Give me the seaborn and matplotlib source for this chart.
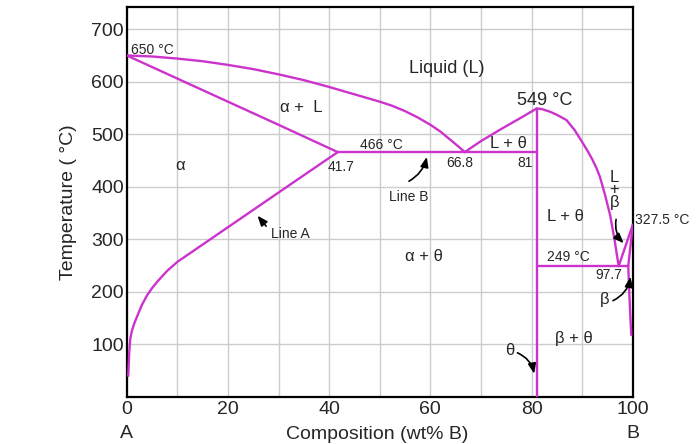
import matplotlib
matplotlib.use("Agg")
import matplotlib.pyplot as plt
import seaborn as sns
import pandas as pd

# ---- data ----
liq_left_x = [0, 5, 10, 15, 20, 25, 30, 35, 40, 45, 50, 52.5, 55, 57.5, 60, 62, 64, 65.5, 66.8]
liq_left_y = [650, 648, 644, 639, 632, 624, 614, 603, 590, 576, 562, 554, 544, 532, 518, 505, 489, 477, 466]

sol_left_x = [0, 10, 20, 30, 41.7]
sol_left_y = [650, 606, 562, 518, 466]

solvus_a_x = [0.3, 0.5, 0.7, 1, 1.5, 2, 3, 4, 5, 6, 8, 10, 15, 20, 25, 30, 35, 41.7]
solvus_a_y = [40, 85, 110, 125, 140, 152, 175, 193, 207, 219, 240, 257, 290, 323, 356, 389, 422, 466]

eut1_x = [41.7, 81]
eut1_y = [466, 466]

liq_theta_x = [66.8, 70, 74, 78, 81]
liq_theta_y = [466, 487, 510, 532, 549]

theta_x = [81, 81]
theta_y = [549, 0]

liq_right_x = [81, 82, 83.6, 85, 86.9, 88.5, 90.2, 91.2, 92, 92.8, 93.5, 94.5, 95.5, 96.4, 97.2]
liq_right_y = [549, 548, 543, 537, 527, 508, 482, 466, 452, 436, 419, 385, 347, 299, 249]

liq_beta_x = [97.2, 100]
liq_beta_y = [249, 327.5]

sol_beta_x = [100, 99.1]
sol_beta_y = [327.5, 249]

solvus_b_x = [99.1, 99.3, 99.5, 99.7]
solvus_b_y = [249, 200, 155, 118]

eut2_x = [81, 99.1]
eut2_y = [249, 249]

x_ticks = [0, 20, 40, 60, 80, 100]
y_ticks = [100, 200, 300, 400, 500, 600, 700]

curves = [
    (liq_left_x, liq_left_y), (sol_left_x, sol_left_y), (solvus_a_x, solvus_a_y),
    (eut1_x, eut1_y), (liq_theta_x, liq_theta_y), (theta_x, theta_y),
    (liq_right_x, liq_right_y), (liq_beta_x, liq_beta_y), (sol_beta_x, sol_beta_y),
    (solvus_b_x, solvus_b_y), (eut2_x, eut2_y),
]

MAG = "#cc33cc"

sns.set_theme(style="white")
plt.rcParams["font.family"] = ["Liberation Sans", "DejaVu Sans"]

fig = plt.figure(figsize=(7.0, 4.44), dpi=100)
ax = fig.add_axes([0.181, 0.106, 0.723, 0.878])

for cx, cy in curves:
    df = pd.DataFrame({"x": cx, "y": cy})
    sns.lineplot(data=df, x="x", y="y", sort=False, estimator=None,
                 color=MAG, lw=1.7, ax=ax, zorder=3)

ax.set_xlim(0, 100)
ax.set_ylim(0, 742)
ax.set_xticks(x_ticks)
ax.set_xticks([10, 30, 50, 70, 90], minor=True)
ax.set_yticks(y_ticks)
ax.set_xticklabels([str(t) for t in x_ticks], fontsize=14)
ax.set_yticklabels([str(t) for t in y_ticks], fontsize=14)
ax.tick_params(axis="both", which="both", direction="in", length=9.5, width=1.3,
               color="black", pad=3)
ax.tick_params(axis="y", pad=2)

ax.grid(True, which="both", color="#cccccc", lw=1.0, zorder=0)
ax.set_axisbelow(True)
for s in ax.spines.values():
    s.set_visible(True)
    s.set_color("black")
    s.set_linewidth(1.6)

ax.set_xlabel("")
ax.set_ylabel("Temperature ( °C)", fontsize=14, labelpad=10)
ax.text(49.5, -71, "Composition (wt% B)", fontsize=14, ha="center", va="center", clip_on=False)
ax.text(0, -70, "A", fontsize=14, ha="center", va="center", clip_on=False)
ax.text(100, -70, "B", fontsize=14, ha="center", va="center", clip_on=False)

small = 10
mid = 12
ax.text(0.9, 660, "650 °C", fontsize=small, ha="left", va="center")
ax.text(34.4, 551, "α +  L", fontsize=mid, ha="center", va="center")
ax.text(63.2, 625, "Liquid (L)", fontsize=13, ha="center", va="center")
ax.text(82.5, 565, "549 °C", fontsize=13, ha="center", va="center")
ax.text(50.3, 479, "466 °C", fontsize=small, ha="center", va="center")
ax.text(42.3, 438, "41.7", fontsize=small, ha="center", va="center")
ax.text(65.8, 446, "66.8", fontsize=small, ha="center", va="center")
ax.text(78.7, 445, "81", fontsize=small, ha="center", va="center")
ax.text(75.5, 482, "L + θ", fontsize=mid, ha="center", va="center")
ax.text(10.5, 441, "α", fontsize=mid, ha="center", va="center")
ax.text(55.7, 381, "Line B", fontsize=small, ha="center", va="center")
ax.text(32.4, 311, "Line A", fontsize=small, ha="center", va="center")
ax.text(86.7, 343, "L + θ", fontsize=mid, ha="center", va="center")
ax.text(58.7, 267, "α + θ", fontsize=mid, ha="center", va="center")
ax.text(87.2, 266, "249 °C", fontsize=small, ha="center", va="center")
ax.text(95.3, 232, "97.7", fontsize=small, ha="center", va="center")
ax.text(94.5, 185, "β", fontsize=mid, ha="center", va="center")
ax.text(88.4, 111, "β + θ", fontsize=mid, ha="center", va="center")
ax.text(75.6, 89, "θ", fontsize=mid, ha="center", va="center")
ax.text(96.4, 394, "L\n+\nβ", fontsize=mid, ha="center", va="center", linespacing=0.8)
ax.text(100.4, 337, "327.5 °C", fontsize=small, ha="left", va="center", clip_on=False)

arrow = dict(arrowstyle="-|>,head_length=0.5,head_width=0.2", color="black", lw=1.2)
ax.annotate("", xy=(59.4, 462), xytext=(55.3, 408),
            arrowprops=dict(arrow, connectionstyle="arc3,rad=0.25"))
ax.annotate("", xy=(25.5, 349), xytext=(27.9, 321),
            arrowprops=dict(arrow, connectionstyle="arc3,rad=0.0"))
ax.annotate("", xy=(98.6, 289), xytext=(96.8, 343),
            arrowprops=dict(arrow, connectionstyle="arc3,rad=0.3"))
ax.annotate("", xy=(99.6, 234), xytext=(95.6, 181),
            arrowprops=dict(arrow, connectionstyle="arc3,rad=0.3"))
ax.annotate("", xy=(80.6, 39), xytext=(76.7, 86),
            arrowprops=dict(arrow, connectionstyle="arc3,rad=-0.3"))

fig.savefig("out.png", dpi=100)
